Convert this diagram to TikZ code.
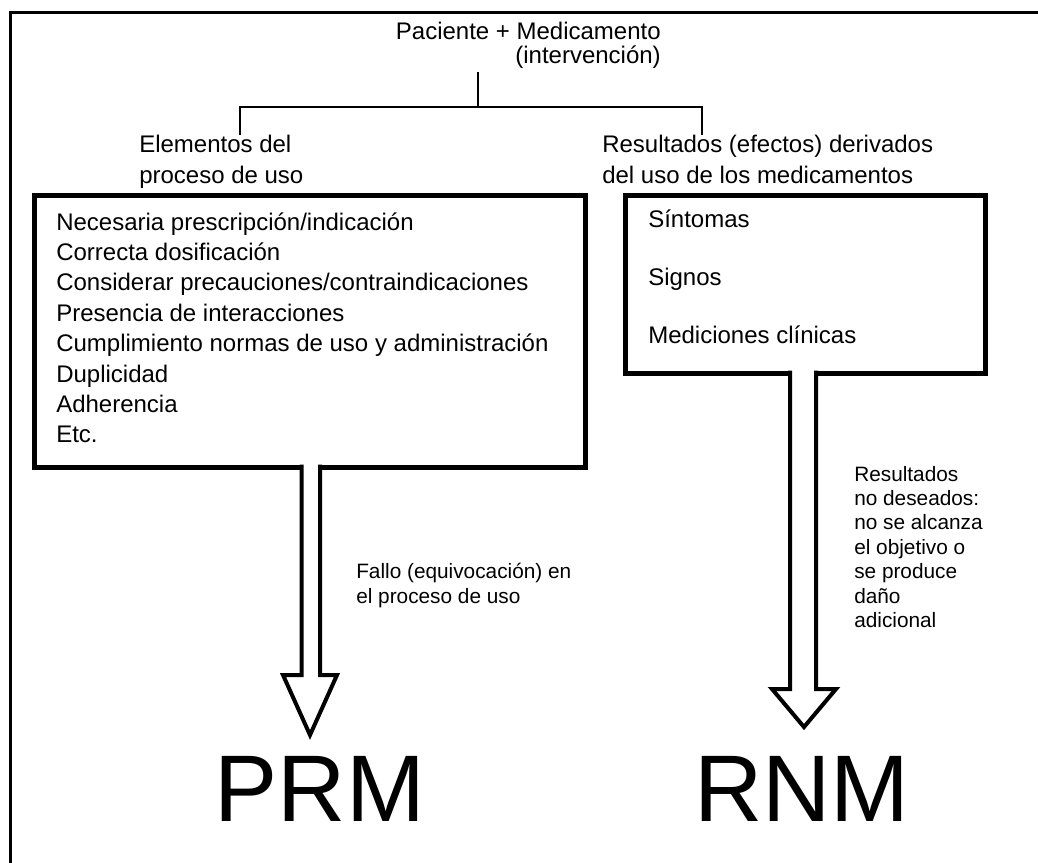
\documentclass[tikz,border=0pt]{standalone}
\usepackage{fontspec}
\setmainfont{Liberation Sans}

\begin{document}
\begin{tikzpicture}[x=0.75pt,y=-0.75pt,
    txt/.style={inner sep=0pt, anchor=base west, font=\fontsize{18}{22}\selectfont},
    note/.style={inner sep=0pt, anchor=base west, font=\fontsize{15.6}{19}\selectfont},
    listbox/.style={draw, line width=3.75pt, inner sep=0pt, outer sep=0pt, anchor=north west},
    tree/.style={line width=1.5pt},
    blockarrow/.style={line width=3pt, fill=white},
    bigtag/.style={inner sep=0pt, anchor=base, font=\fontsize{71}{80}\selectfont}]
    \useasboundingbox (0,0) rectangle (1038,863);
    % Frame (only top and left edges show)
    \draw[line width=2.2pt] (10.3,863) |- (1038,12.7);
    % Top heading
    \node[txt, anchor=base east] (pac) at (661,40) {Paciente + Medicamento};
    \node[txt, anchor=base east] (interv) at (661,64) {(intervención)};
    % Bracket
    \coordinate (root) at (478,72);
    \coordinate (fork) at (478,107);
    \coordinate (lft) at (240,135);
    \coordinate (rgt) at (702,135);
    \draw[tree] (root) -- (fork);
    \draw[tree] (lft) |- (fork) -| (rgt);
    % Sub headings
    \node[txt] (elemA) at (139,152) {Elementos del};
    \node[txt] (elemB) at (139,183) {proceso de uso};
    \node[txt] (resA) at (602,152) {Resultados (efectos) derivados};
    \node[txt] (resB) at (602,183) {del uso de los medicamentos};
    % Boxes
    \node[listbox, minimum width=551*0.75pt, minimum height=272*0.75pt] (elem) at (34,195) {};
    \node[listbox, minimum width=360*0.75pt, minimum height=178*0.75pt] (res) at (625,195) {};
    \foreach \t [count=\i from 0] in {Necesaria prescripción/indicación, Correcta dosificación,
        Considerar precauciones/contraindicaciones, Presencia de interacciones,
        Cumplimiento normas de uso y administración, Duplicidad, Adherencia, Etc.}
      \node[txt] (e\i) at (56,230+30.4*\i) {\t};
    \foreach \t [count=\i from 0] in {Síntomas, Signos, Mediciones clínicas}
      \node[txt] (r\i) at (648,227+58*\i) {\t};
    % Outcomes
    \node[bigtag] (prm) at (320,821) {PRM};
    \node[bigtag] (rnm) at (802,821) {RNM};
    % Block arrows
    \coordinate (tipL) at (310,735);
    \coordinate (tipR) at (804,727);
    \draw[blockarrow] (elem.south) ++(-8,-2.5) -- ++(0,210.5) -- ++(-18.5,0) -- (tipL)
      -- ++(27,-60) -- ++(-17,0) -- ++(0,-210.5);
    \draw[blockarrow] (res.south) ++(-15,-2.5) -- ++(0,318.5) -- ++(-18,0) -- (tipR)
      -- ++(32,-38) -- ++(-20,0) -- ++(0,-318.5);
    % Arrow notes
    \node[note] (fallA) at (356,578) {Fallo (equivocación) en};
    \node[note] (fallB) at (356,603) {el proceso de uso};
    \foreach \t [count=\i from 0] in {Resultados, no deseados:, no se alcanza,
        el objetivo o, se produce, daño, adicional}
      \node[note] (n\i) at (854,481+24.4*\i) {\t};
\end{tikzpicture}
\end{document}
